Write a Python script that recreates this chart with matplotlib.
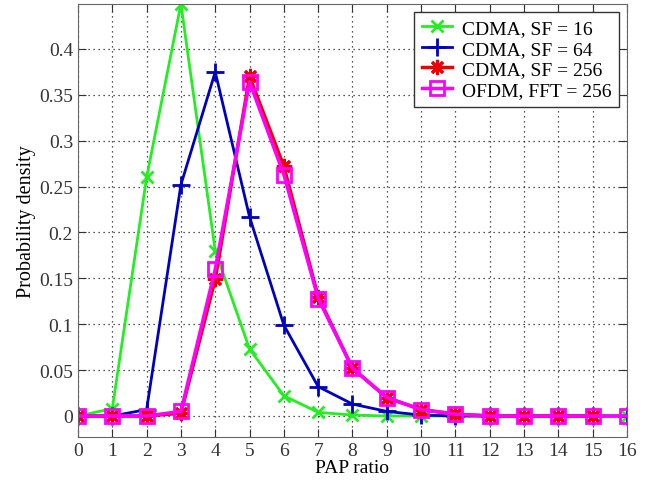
import numpy as np
import matplotlib
matplotlib.use('Agg')
import matplotlib.pyplot as plt

plt.rcParams['font.family'] = ['Liberation Serif', 'DejaVu Serif']

pap = np.arange(0, 17)
cdma16 = [0, 0.008, 0.26, 0.449, 0.18, 0.073, 0.022, 0.004, 0.001, 0, 0, 0, 0, 0, 0, 0, 0]
cdma64 = [0, 0, 0.007, 0.252, 0.375, 0.217, 0.099, 0.032, 0.013, 0.005, 0.001, 0, 0, 0, 0, 0, 0]
cdma256 = [0, 0, 0, 0.003, 0.149, 0.370, 0.272, 0.130, 0.052, 0.020, 0.007, 0.002, 0, 0, 0, 0]
ofdm256 = [0, 0, 0, 0.005, 0.160, 0.364, 0.263, 0.128, 0.052, 0.020, 0.007, 0.002, 0, 0, 0, 0, 0]
labels = ['CDMA, SF = 16', 'CDMA, SF = 64', 'CDMA, SF = 256', 'OFDM, FFT = 256']

fig = plt.figure(figsize=(6.57, 4.85), dpi=100)
ax = fig.add_axes([0.1187, 0.0969, 0.8356, 0.8928])

ax.plot(pap, cdma16, color='#22ee22', lw=2, marker='x', ms=9, mew=2, label=labels[0])
ax.plot(pap, cdma64, color='#0000c0', lw=2, marker='+', ms=13, mew=2, label=labels[1])
ax.plot(pap[:len(cdma256)], cdma256, color='#ee0000', lw=2.5, marker=(8, 2, 0), ms=11, mew=2, label=labels[2])
ax.plot(pap, ofdm256, color='#ff00ff', lw=2.5, marker='s', ms=10, mew=2, mfc='none', label=labels[3])

ax.set_xlim(0, 16)
ax.set_ylim(-0.0229, 0.449)
ax.set_xticks(range(0, 17))
yt = [0, 0.05, 0.1, 0.15, 0.2, 0.25, 0.3, 0.35, 0.4]
ax.set_yticks(yt)
ax.set_yticklabels(['0', '0.05', '0.1', '0.15', '0.2', '0.25', '0.3', '0.35', '0.4'])
ax.tick_params(direction='in', top=True, right=True, labelsize=14, length=6, colors='#333333')
ax.grid(True, color='#222222', linestyle=(0, (1, 3)), linewidth=0.9)
for s in ax.spines.values():
    s.set_color('#666666')

ax.set_xlabel('PAP ratio', fontsize=14, labelpad=0)
ax.set_ylabel('Probability density', fontsize=14.5, labelpad=2)

leg = ax.legend(loc='upper right', fontsize=14, fancybox=False, framealpha=1,
                edgecolor='#333333', borderaxespad=0.4, handlelength=1.55,
                labelspacing=0.15, borderpad=0.4, handletextpad=0.5)
leg.get_frame().set_linewidth(1)

fig.savefig('out.png', dpi=100)
